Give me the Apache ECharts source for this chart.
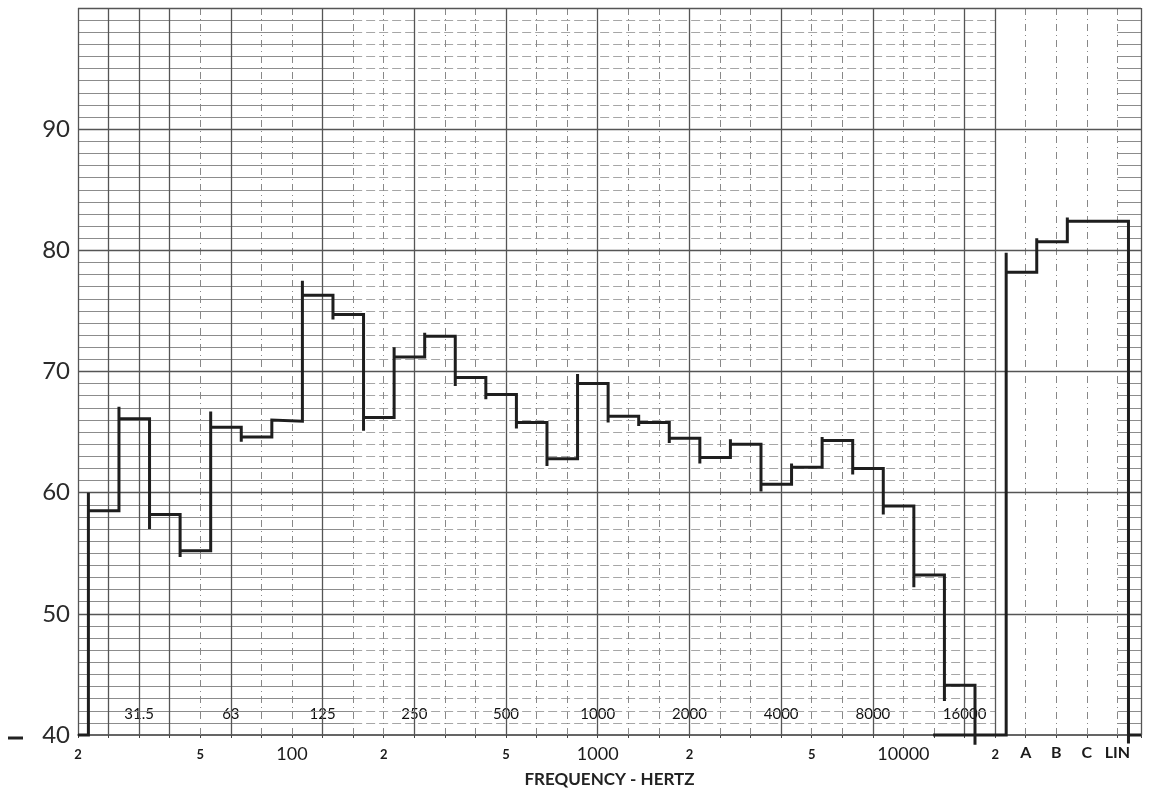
<!DOCTYPE html>
<html>
<head>
<meta charset="utf-8">
<script src="https://cdn.jsdelivr.net/npm/echarts@6/dist/echarts.min.js"></script>
<style>
  html, body { margin: 0; padding: 0; background: #fff; }
  #chart { width: 1157px; height: 793px; }
</style>
</head>
<body>
<div id="chart"></div>
<script>
// x is measured in 1/3-octave band steps, 0 = 20 Hz
var tickPositions = [0, 4, 7, 10, 14, 17, 20, 24, 27, 30, 31, 32, 33, 34];
var tickLabels = ['2', '5', '100', '2', '5', '1000', '2', '5', '10000', '2', 'A', 'B', 'C', 'LIN'];
var octavePositions = [2, 5, 8, 11, 14, 17, 20, 23, 26, 29];
var octaveLabels = ['31.5', '63', '125', '250', '500', '1000', '2000', '4000', '8000', '16000'];
var yTicks = [40, 50, 60, 70, 80, 90];

// pen record: level of each band and the overshoot of the pen when it moved there
var bandLevels = [58.5, 66.1, 58.2, 55.2, 65.4, 64.6, 65.9, 76.3, 74.7, 66.2, 71.2, 72.9, 69.5, 68.1, 65.8,
                  62.8, 69.0, 66.3, 65.8, 64.5, 62.9, 64.0, 60.7, 62.1, 64.3, 62.0, 58.9, 53.2, 44.1];
var bandPeaks  = [60.0, 67.1, 57.0, 54.7, 66.7, 64.2, 66.0, 77.5, 74.3, 65.1, 72.0, 73.2, 68.8, 67.7, 65.3,
                  62.2, 69.8, 65.8, 65.5, 64.1, 62.4, 64.4, 60.1, 62.4, 64.6, 61.5, 58.2, 52.2, 42.8];
var bandStart = 0.34;
var bandEndDrop = 39.2;

var weightingNames  = ['A', 'B', 'C', 'LIN'];
var weightingLevels = [78.2, 80.7, 82.4, 82.4];
var weightingPeaks  = [79.8, 81.0, 82.7, 82.4];
var weightingStart = 30.36;
var weightingEndDrop = 39.3;
var baselineFrom = 27.97;

var xMax = 34.77, yMin = 40, yMax = 100;

// build step traces
var bandTrace = [[0, 40]];
var x = bandStart, prev = 40;
for (var i = 0; i < bandLevels.length; i++) {
  bandTrace.push([x, prev], [x, bandPeaks[i]], [x, bandLevels[i]]);
  prev = bandLevels[i];
  x += 1;
}
bandTrace.push([x, prev], [x, bandEndDrop]);

var wTrace = [[baselineFrom, 40]];
x = weightingStart; prev = 40;
for (var j = 0; j < weightingLevels.length; j++) {
  wTrace.push([x, prev], [x, weightingPeaks[j]], [x, weightingLevels[j]]);
  prev = weightingLevels[j];
  x += 1;
}
wTrace.push([x, prev], [x, weightingEndDrop], [x, 40], [xMax, 40]);

// graph paper
var solidV = [0, 1, 3, 30, xMax].concat(octavePositions);
var dashedV = [];
for (var k = 4; k < 30; k++) if (octavePositions.indexOf(k) < 0) dashedV.push(k);
dashedV.push(31, 32, 33, 34);
var majorH = [50, 60, 70, 80, 90, 100];
var minorSolid = [], minorDashed = [];
for (var v = 41; v < 100; v++) {
  if (v % 10 === 0) continue;
  minorSolid.push([{ coord: [0, v] }, { coord: [9, v] }]);
  minorSolid.push([{ coord: [34, v] }, { coord: [xMax, v] }]);
  minorDashed.push([{ coord: [9, v] }, { coord: [30, v] }]);
}

function paper(name, data, style) {
  return {
    name: name, type: 'line', data: [[0, 40]], symbol: 'none', silent: true,
    lineStyle: { opacity: 0 }, z: 1, animation: false,
    markLine: { symbol: ['none', 'none'], silent: true, animation: false,
                label: { show: false }, lineStyle: style, data: data }
  };
}

var chart = echarts.init(document.getElementById('chart'));
chart.setOption({
  backgroundColor: '#ffffff',
  animation: false,
  grid: { left: 78, right: 16, top: 8, bottom: 56 },
  graphic: [{
    // the pen-zero mark left of the scale
    type: 'line', shape: { x1: 8, y1: 738, x2: 23, y2: 738 },
    style: { stroke: '#222', lineWidth: 3 }
  }],
  xAxis: [{
    type: 'value', min: 0, max: xMax, interval: 1,
    axisLine: { show: true, lineStyle: { color: '#333', width: 1.5 } },
    axisTick: { show: true, length: 3, lineStyle: { color: '#444' } },
    splitLine: { show: false },
    axisLabel: {
      customValues: tickPositions, margin: 10,
      formatter: function (val) {
        var t = tickLabels[tickPositions.indexOf(Math.round(val))];
        if (t === undefined) return '';
        if (t.length >= 3 && t !== 'LIN') return '{big|' + t + '}';
        if (weightingNames.indexOf(t) >= 0) return '{w|' + t + '}';
        return '{small|' + t + '}';
      },
      rich: {
        big: { fontFamily: 'Lato', fontSize: 18, color: '#1a1a1a', fontWeight: 'normal' },
        small: { fontFamily: 'Lato', fontSize: 13, color: '#1a1a1a', fontWeight: 'bold', padding: [3, 0, 0, 0] },
        w: { fontFamily: 'Lato', fontSize: 16, color: '#1a1a1a', fontWeight: 'bold' }
      }
    },
    name: 'FREQUENCY - HERTZ', nameLocation: 'middle', nameGap: 36,
    nameTextStyle: { fontFamily: 'Lato', fontSize: 17, fontWeight: 'bold', color: '#222' }
  }, {
    type: 'value', min: 0, max: xMax, position: 'bottom',
    axisLine: { show: false }, axisTick: { show: false }, splitLine: { show: false },
    axisLabel: {
      inside: true, customValues: octavePositions, margin: 12,
      formatter: function (val) {
        var idx = octavePositions.indexOf(Math.round(val));
        return idx < 0 ? '' : '{o|' + octaveLabels[idx] + '}';
      },
      rich: {
        o: { fontFamily: 'Lato', fontSize: 15, color: '#111', backgroundColor: '#fff', padding: [1, 2] }
      }
    }
  }],
  yAxis: {
    type: 'value', min: yMin, max: yMax, interval: 10,
    axisLine: { show: false }, axisTick: { show: false }, splitLine: { show: false },
    axisLabel: {
      margin: 8,
      formatter: function (val) {
        return yTicks.indexOf(val) < 0 ? '' : String(val);
      },
      fontFamily: 'Lato', fontSize: 24, color: '#2a2a2a'
    }
  },
  series: [
    paper('minorSolid', minorSolid, { color: '#8c8c8c', width: 1, type: 'solid' }),
    paper('minorDashed', minorDashed, { color: '#a6a6a6', width: 1, type: [9, 4] }),
    paper('dashedV', dashedV.map(function (p) { return { xAxis: p }; }), { color: '#888', width: 1, type: [7, 4, 1, 4] }),
    paper('solidV', solidV.map(function (p) { return { xAxis: p }; }), { color: '#555', width: 1.3, type: 'solid' }),
    paper('majorH', majorH.map(function (p) { return { yAxis: p }; }), { color: '#555', width: 1.4, type: 'solid' }),
    {
      name: 'bands', type: 'line', data: bandTrace, symbol: 'none', clip: false, z: 5,
      lineStyle: { color: '#1e1e1e', width: 3, join: 'miter' }
    },
    {
      name: 'weighting', type: 'line', data: wTrace, symbol: 'none', clip: false, z: 5,
      lineStyle: { color: '#1e1e1e', width: 3, join: 'miter' }
    }
  ]
});
</script>
</body>
</html>
